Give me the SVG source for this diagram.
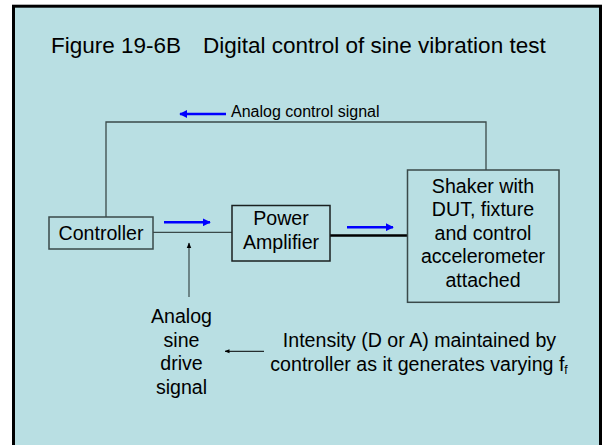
<svg xmlns="http://www.w3.org/2000/svg" width="602" height="445" viewBox="0 0 602 445">
<defs>
<style>
text{font-family:"Liberation Sans",Arial,sans-serif;fill:#000}
tspan{fill:#000}
.box{fill:none;stroke:#3a4a4a;stroke-width:1.5}
.wire{fill:none;stroke:#3a4a4a;stroke-width:1.3}
.blue{fill:none;stroke:#0000ff;stroke-width:2.5}
.lbl{font-size:19.6px;text-anchor:middle}
</style>
<marker id="bh" viewBox="0 0 10 10" refX="9" refY="5" markerWidth="3.2" markerHeight="3.2" orient="auto" markerUnits="strokeWidth">
<path d="M0,0 L10,5 L0,10 z" fill="#0000ff"/>
</marker>
<marker id="kh" viewBox="0 0 10 10" refX="9" refY="5" markerWidth="5" markerHeight="5" orient="auto" markerUnits="strokeWidth">
<path d="M0,1 L10,5 L0,9 z" fill="#000"/>
</marker>
</defs>
<rect x="0" y="0" width="602" height="445" fill="#fff"/>
<rect x="13.5" y="6.2" width="587" height="445" fill="#b9dfe3" stroke="#000" stroke-width="3"/>
<text x="51" y="52.7" font-size="22.5">Figure 19-6B</text>
<text x="203" y="52.7" font-size="22.5">Digital control of sine vibration test</text>

<g id="connectors">
<polyline class="wire" points="106,217 106,122 486,122 486,170"/>
<line class="wire" x1="153" y1="232.3" x2="232" y2="232.3"/>
<line x1="330" y1="235.5" x2="407.5" y2="235.5" stroke="#000" stroke-width="2.5"/>
<line x1="189" y1="297" x2="189" y2="243" stroke="#3a4a4a" stroke-width="1.2" marker-end="url(#kh)"/>
<line x1="264" y1="351.3" x2="225" y2="351.3" stroke="#000" stroke-width="1" marker-end="url(#kh)"/>
<line class="blue" x1="226" y1="114" x2="180" y2="114" marker-end="url(#bh)"/>
<line class="blue" x1="164" y1="222.3" x2="210" y2="222.3" marker-end="url(#bh)"/>
<line class="blue" x1="347" y1="227.2" x2="393" y2="227.2" marker-end="url(#bh)"/>
</g>
<text x="231" y="117.3" font-size="16">Analog control signal</text>

<g id="controller">
<rect class="box" x="49" y="217" width="104" height="32"/>
<text class="lbl" x="101" y="240">Controller</text>
</g>
<g id="power-amplifier">
<rect class="box" x="232" y="205.5" width="98" height="55.5" style="stroke:#1a2020"/>
<text class="lbl" x="281" y="225">Power</text>
<text class="lbl" x="281" y="249.3">Amplifier</text>
</g>
<g id="shaker">
<rect class="box" x="407.5" y="170" width="151.5" height="132.3"/>
<text class="lbl" x="483" y="192.7">Shaker with</text>
<text class="lbl" x="483" y="216">DUT, fixture</text>
<text class="lbl" x="483" y="239.5">and control</text>
<text class="lbl" x="483" y="263.3">accelerometer</text>
<text class="lbl" x="483" y="286.7">attached</text>
</g>
<g id="drive-label">
<text class="lbl" x="181.5" y="323.3">Analog</text>
<text class="lbl" x="181.5" y="346.7">sine</text>
<text class="lbl" x="181.5" y="370">drive</text>
<text class="lbl" x="181.5" y="393.5">signal</text>
</g>
<g id="intensity-note">
<text class="lbl" x="419.5" y="346.7">Intensity (D or A) maintained by</text>
<text class="lbl" x="419" y="370.7">controller as it generates varying f<tspan font-size="12" dy="3" fill="#000">f</tspan></text>
</g>
</svg>
